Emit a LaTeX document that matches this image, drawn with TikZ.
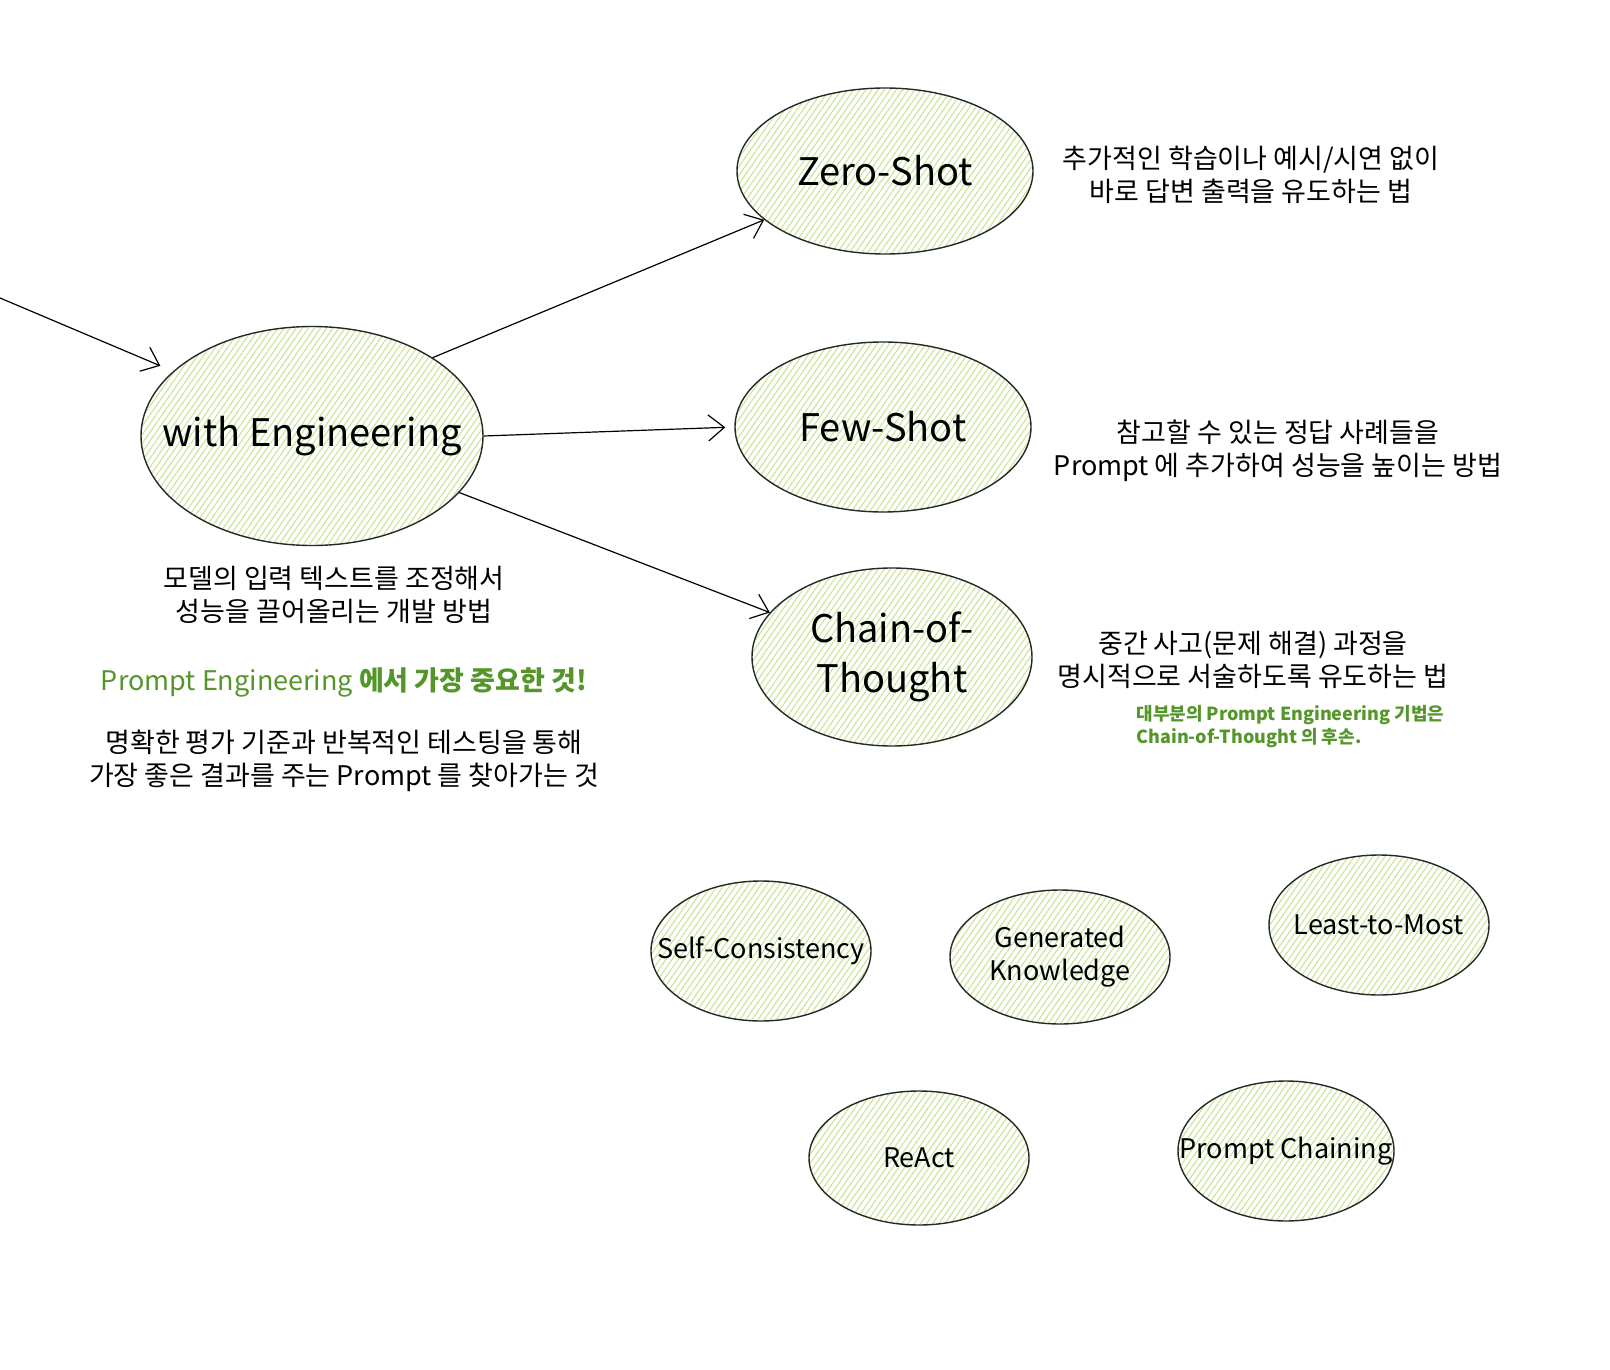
\documentclass[tikz,border=0pt]{standalone}
\usepackage{fontspec}
\setmainfont{Noto Sans CJK KR}
\usetikzlibrary{shapes.geometric,patterns.meta,arrows.meta}

\definecolor{hatchgreen}{RGB}{200,229,150}
\definecolor{outline}{RGB}{40,40,40}
\definecolor{notegreen}{RGB}{84,150,42}

\tikzset{
  idea/.style={draw=outline, line width=1.4pt, ellipse, inner sep=0pt,
    pattern={Lines[angle=55,distance=5pt,line width=1.1pt]}, pattern color=hatchgreen},
  big/.style={align=center, font=\fontsize{38}{50}\selectfont},
  small/.style={align=center, font=\fontsize{27}{33}\selectfont},
  desc/.style={align=center, font=\fontsize{27}{33}\selectfont},
  note/.style={align=left, text=notegreen, font=\bfseries\fontsize{18}{23}\selectfont},
  link/.style={-{Straight Barb[length=16pt,width=26pt]}, line width=1.2pt},
}

\begin{document}
\begin{tikzpicture}[x=1pt, y=-1pt]
\useasboundingbox (0,0) rectangle (1610,1370);

% main topic
\node[idea, minimum width=342pt, minimum height=219pt,
  label={[big]center:with Engineering}] (eng) at (312,436) {};

% the three basic techniques
\node[idea, minimum width=296pt, minimum height=166pt,
  label={[big]center:Zero-Shot}] (zs) at (885,171) {};
\node[idea, minimum width=296pt, minimum height=170pt,
  label={[big]center:Few-Shot}] (fs) at (883,427) {};
\node[idea, minimum width=280pt, minimum height=178pt,
  label={[big]center:Chain-of-\\Thought}] (cot) at (892,657) {};

% descendants of chain-of-thought
\node[idea, minimum width=220pt, minimum height=140pt,
  label={[small]center:Self-Consistency}] (sc) at (761,951) {};
\node[idea, minimum width=220pt, minimum height=134pt,
  label={[small]center:Generated\\Knowledge}] (gk) at (1060,957) {};
\node[idea, minimum width=220pt, minimum height=140pt,
  label={[small]center:Least-to-Most}] (ltm) at (1379,925) {};
\node[idea, minimum width=220pt, minimum height=134pt,
  label={[small]center:ReAct}] (react) at (919,1158) {};
\node[idea, minimum width=216pt, minimum height=140pt,
  label={[small]center:Prompt Chaining}] (chain) at (1286,1151) {};

% descriptions
\node[desc] (zsdesc) at (1251,175) {추가적인 학습이나 예시/시연 없이\\바로 답변 출력을 유도하는 법};
\node[desc] (fsdesc) at (1278,451) {참고할 수 있는 정답 사례들을\\Prompt 에 추가하여 성능을 높이는 방법};
\node[desc] (cotdesc) at (1253,660) {중간 사고(문제 해결) 과정을\\명시적으로 서술하도록 유도하는 법};
\node[note, anchor=west] (cotnote) at (1133,727) {대부분의 Prompt Engineering 기법은\\Chain-of-Thought 의 후손.};

\node[desc] (engdesc) at (334,595) {모델의 입력 텍스트를 조정해서\\성능을 끌어올리는 개발 방법};
\node[desc, text=notegreen] (enggoal) at (344,682) {Prompt Engineering \textbf{에서 가장 중요한 것!}};
\node[desc] (engway) at (344,761) {명확한 평가 기준과 반복적인 테스팅을 통해\\가장 좋은 결과를 주는 Prompt 를 찾아가는 것};

% connectors
\coordinate (src) at (0,298);
\draw[link, shorten >=14pt] (src) -- (eng.155);
\draw[link] (eng.33) -- (zs.202);
\draw[link, shorten >=9pt] (eng.east) -- (fs.west);
\draw[link] (eng.-21) -- (cot.160);
\end{tikzpicture}
\end{document}
